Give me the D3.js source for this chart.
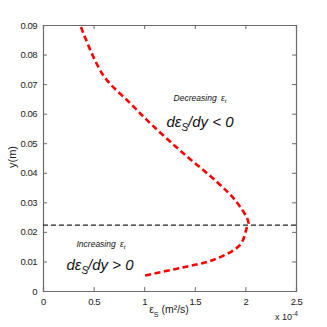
<!DOCTYPE html>
<html>
<head>
<style>
body { margin: 0; background: #fff; }
text { font-family: "Liberation Sans", Arial, sans-serif; }
</style>
</head>
<body>
<script src="https://cdn.jsdelivr.net/npm/d3@7"></script>
<script>
// eddy diffusivity profile (x in 1e-4 m2/s, y in m)
var epsS = [0.375, 0.593, 0.860, 1.077, 1.383, 1.719, 1.897, 2.016, 2.03, 2.016, 1.947, 1.680, 1.354, 0.988];
var yPos = [0.0893, 0.0731, 0.0636, 0.0562, 0.0467, 0.0369, 0.0308, 0.0247, 0.0230, 0.0217, 0.0156, 0.0105, 0.0078, 0.0051];
var xTicks = [0, 0.5, 1, 1.5, 2, 2.5];
var yTicks = [0, 0.01, 0.02, 0.03, 0.04, 0.05, 0.06, 0.07, 0.08, 0.09];
var yMax = 0.0223; // level of max diffusivity

var W = 327, H = 327;
var mLeft = 43, mRight = 296, mTop = 25, mBottom = 291;

var svg = d3.select("body").append("svg")
    .attr("width", W)
    .attr("height", H);

var x = d3.scaleLinear().domain([0, 2.5]).range([mLeft, mRight]);
var y = d3.scaleLinear().domain([0, 0.09]).range([mBottom, mTop]);

var axisColor = "#6b6b6b";

//axes: ticks pointing inside the box
var gx = svg.append("g").attr("transform", "translate(0," + mBottom + ")")
    .call(d3.axisBottom(x).tickValues(xTicks).tickSize(-4).tickPadding(7).tickFormat(function(d) { return d; }));
var gxt = svg.append("g").attr("transform", "translate(0," + mTop + ")")
    .call(d3.axisTop(x).tickValues(xTicks).tickSize(-4).tickFormat(""));
var gy = svg.append("g").attr("transform", "translate(" + mLeft + ",0)")
    .call(d3.axisLeft(y).tickValues(yTicks).tickSize(-4).tickPadding(6).tickFormat(function(d) { return d; }));
var gyr = svg.append("g").attr("transform", "translate(" + mRight + ",0)")
    .call(d3.axisRight(y).tickValues(yTicks).tickSize(-4).tickFormat(""));

[gx, gxt, gy, gyr].forEach(function(g) {
    g.select(".domain").attr("stroke", axisColor).attr("stroke-width", 1.2);
    g.selectAll(".tick line").attr("stroke", axisColor);
    g.selectAll(".tick text").attr("fill", "#222").style("font-size", "9.5px").style("letter-spacing", "-0.5px");
});

//horizontal dashed line
svg.append("line")
    .attr("x1", mLeft).attr("x2", mRight)
    .attr("y1", y(yMax)).attr("y2", y(yMax))
    .attr("stroke", "#222")
    .attr("stroke-width", 1.3)
    .attr("stroke-dasharray", "5,3");

//profile curve
var pts = epsS.map(function(d, i) { return [d, yPos[i]]; });
var line = d3.line()
    .x(function(d) { return x(d[0]); })
    .y(function(d) { return y(d[1]); })
    .curve(d3.curveCatmullRom.alpha(0.5));
svg.append("path")
    .datum(pts)
    .attr("d", line)
    .attr("fill", "none")
    .attr("stroke", "#ff0000")
    .attr("stroke-width", 2.6)
    .attr("stroke-dasharray", "6,3.5");

//annotations
function note(tx, ty, small) {
    var t1 = svg.append("text").attr("x", tx).attr("y", ty)
        .attr("text-anchor", "middle").style("font-size", "8.5px").style("font-style", "italic").attr("fill", "#111");
    t1.append("tspan").text(small);
    t1.append("tspan").text("ε").attr("dx", 2);
    t1.append("tspan").text("t").attr("dy", 2).style("font-size", "6px");
}
note(200, 101, "Decreasing ");
note(101, 247, "Increasing ");

function deriv(tx, ty, sign) {
    var t = svg.append("text").attr("x", tx).attr("y", ty)
        .attr("text-anchor", "middle").style("font-size", "15px").style("font-style", "italic").attr("fill", "#111");
    t.append("tspan").text("dε");
    t.append("tspan").text("S").attr("dy", 4).style("font-size", "10px");
    t.append("tspan").text("/dy " + sign + " 0").attr("dy", -4);
}
deriv(200, 127, "<");
deriv(100, 270, ">");

//axis labels
var xl = svg.append("text").attr("x", 169).attr("y", 313)
    .attr("text-anchor", "middle").style("font-size", "10.5px").attr("fill", "#222");
xl.append("tspan").text("ε");
xl.append("tspan").text("S").attr("dy", 4).style("font-size", "7px");
xl.append("tspan").text(" (m²/s)").attr("dy", -4);

var ex = svg.append("text").attr("x", 275).attr("y", 320)
    .style("font-size", "9px").attr("fill", "#222");
ex.append("tspan").text("x 10");
ex.append("tspan").text("-4").attr("dy", -4).style("font-size", "6.5px");

svg.append("text")
    .attr("transform", "translate(16,157) rotate(-90)")
    .attr("text-anchor", "middle")
    .style("font-size", "11px")
    .attr("fill", "#222")
    .text("y(m)");
</script>
</body>
</html>
